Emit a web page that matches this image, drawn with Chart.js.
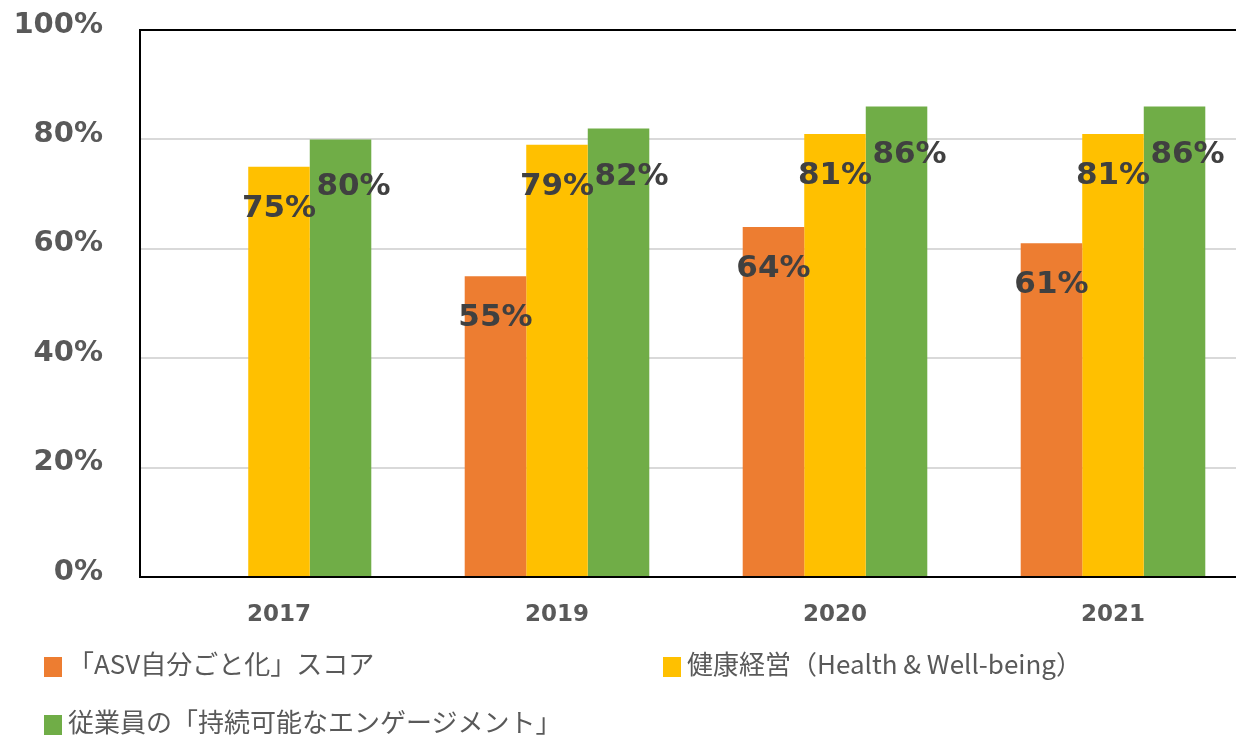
<!DOCTYPE html>
<html>
<head>
<meta charset="utf-8">
<script src="https://cdn.jsdelivr.net/npm/chart.js@4"></script>
<style>
html,body{margin:0;padding:0;background:#fff;overflow:hidden;}
#wrap{position:relative;width:1260px;height:739px;}
#legend .item{position:absolute;display:flex;align-items:center;
    font-family:"Noto Sans CJK JP",sans-serif;font-size:26px;color:#595959;
    line-height:1;white-space:nowrap;}
#legend .box{width:18px;height:20px;margin-right:6px;margin-top:8px;}
</style>
</head>
<body>
<div id="wrap">
    <canvas id="chart" width="1260" height="739"></canvas>
    <div id="legend"></div>
</div>
<script>
const years = ["2017","2019","2020","2021"];

const asvScore = [null,55,64,61];
const healthScore = [75,79,81,81];
const engageScore = [80,82,86,86];

const seriesNames = [
    "「ASV自分ごと化」スコア",
    "健康経営（Health & Well-being）",
    "従業員の「持続可能なエンゲージメント」"
];

const yTicks = [0,20,40,60,80,100];

const colors = ["#ED7D31","#FFC000","#70AD47"];

// label offsets from the bar top, per series
const labelShift = [
    {dx:0, dy:42},
    {dx:0, dy:42},
    {dx:13, dy:48}
];

const frame = {
    id:"frame",
    afterDraw(chart){
        const a = chart.chartArea;
        const c = chart.ctx;
        c.save();
        c.strokeStyle = "#000";
        c.lineWidth = 2;
        c.strokeRect(a.left, a.top, a.right - a.left, a.bottom - a.top);
        c.restore();
    }
};

const valueLabels = {
    id:"valueLabels",
    afterDatasetsDraw(chart){
        const c = chart.ctx;
        c.save();
        c.font = "bold 31px 'DejaVu Sans'";
        c.fillStyle = "#404040";
        c.textAlign = "center";
        c.textBaseline = "middle";
        chart.data.datasets.forEach((ds,i)=>{
            const meta = chart.getDatasetMeta(i);
            meta.data.forEach((bar,j)=>{
                const v = ds.data[j];
                if(v === null || v === undefined) return;
                c.fillText(v + "%", bar.x + labelShift[i].dx, bar.y + labelShift[i].dy);
            });
        });
        c.restore();
    }
};

const chart = new Chart(document.getElementById("chart"),{
    type:"bar",

    data:{
        labels:years,
        datasets:[
            {label:seriesNames[0], data:asvScore, backgroundColor:colors[0]},
            {label:seriesNames[1], data:healthScore, backgroundColor:colors[1]},
            {label:seriesNames[2], data:engageScore, backgroundColor:colors[2]}
        ]
    },

    options:{
        responsive:false,
        animation:false,
        layout:{
            padding:{top:30, right:8, left:0, bottom:0}
        },
        datasets:{
            bar:{
                barPercentage:1,
                categoryPercentage:0.664
            }
        },
        plugins:{
            legend:{display:false},
            tooltip:{enabled:false}
        },
        scales:{
            x:{
                grid:{display:false, drawTicks:false},
                border:{display:false},
                ticks:{
                    color:"#595959",
                    padding:24,
                    font:{family:"DejaVu Sans", size:23, weight:"bold"}
                },
                afterFit(s){ s.height = 162; }
            },
            y:{
                min:0,
                max:100,
                afterBuildTicks(s){
                    s.ticks = yTicks.map(v => ({value:v}));
                },
                grid:{color:"#d9d9d9", lineWidth:2, drawTicks:false},
                border:{display:false},
                ticks:{
                    color:"#595959",
                    padding:37,
                    labelOffset:-5,
                    font:{family:"DejaVu Sans", size:29, weight:"bold"},
                    callback:v => v + "%"
                },
                afterFit(s){
                    s.width = 140;
                    // tick padding would otherwise push the plot down
                    s.paddingTop = 10;
                    s.paddingBottom = 10;
                }
            }
        }
    },

    plugins:[frame, valueLabels]
});

// legend in two columns like the original
const legendPos = [
    {left:44, top:649},
    {left:663, top:649},
    {left:44, top:707}
];

let html = "";
chart.data.datasets.forEach((ds,i)=>{
    html += `
    <div class="item" style="left:${legendPos[i].left}px;top:${legendPos[i].top}px;">
        <div class="box" style="background:${ds.backgroundColor};"></div>
        <span>${ds.label}</span>
    </div>`;
});
document.getElementById("legend").innerHTML = html;
</script>
</body>
</html>
